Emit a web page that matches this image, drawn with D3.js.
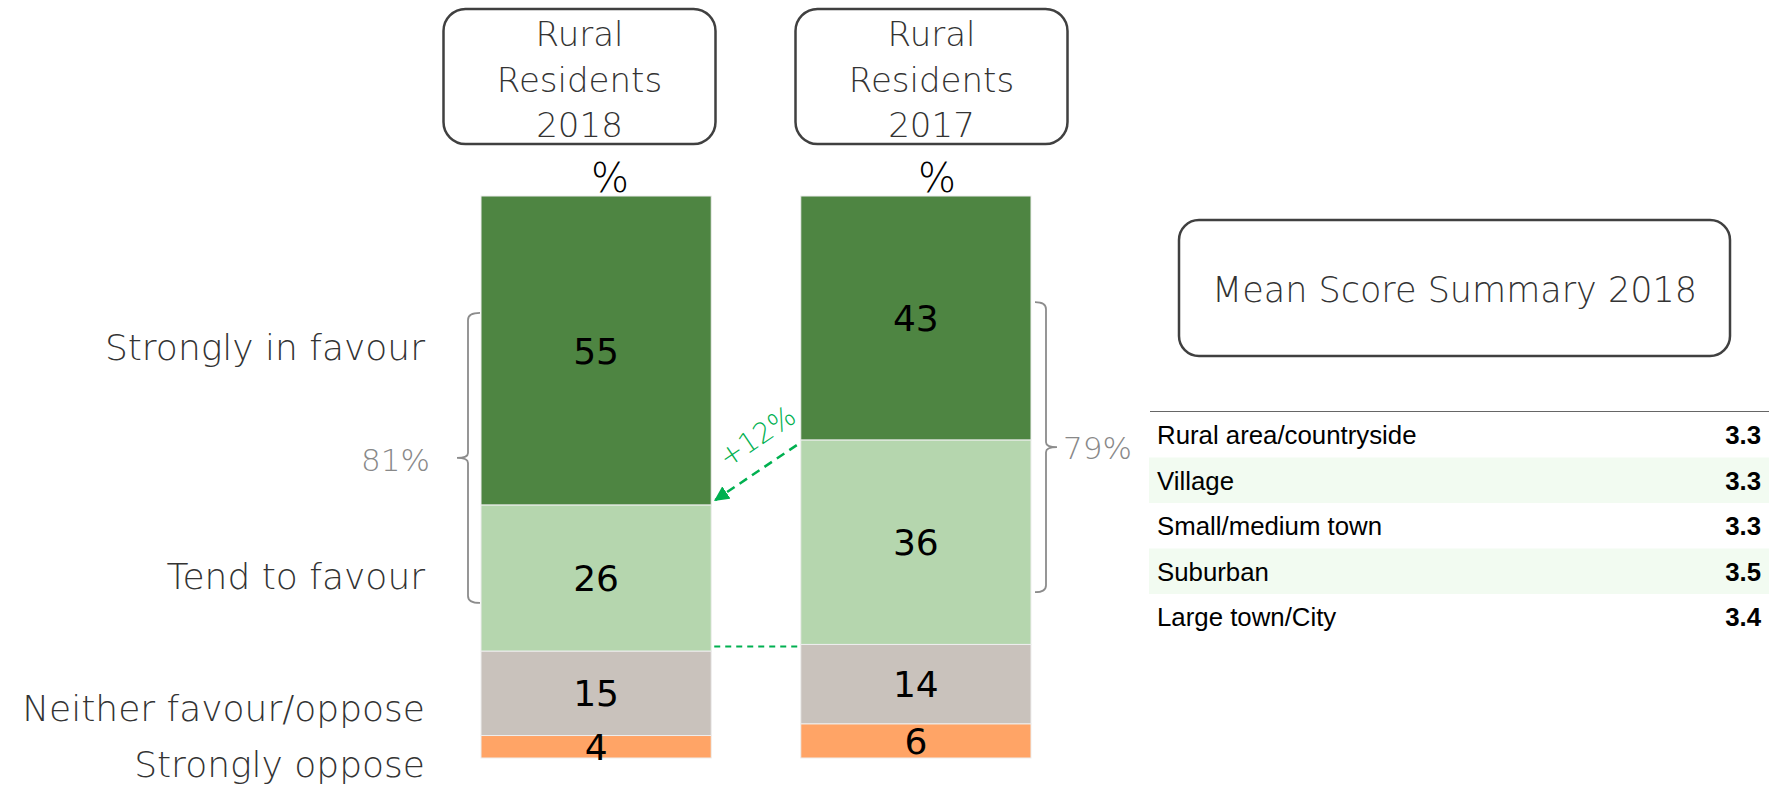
<!DOCTYPE html>
<html>
<head>
<meta charset="utf-8">
<script src="https://cdn.jsdelivr.net/npm/d3@7"></script>
<style>
  body { margin: 0; background: #fff; }
  svg { display: block; }
</style>
</head>
<body>
<div id="wrapper"></div>
<script>
// data
var groups = ["Rural Residents 2018", "Rural Residents 2017"];
var groupYears = ["2018", "2017"];
var categories = ["Strongly in favour", "Tend to favour", "Neither favour/oppose", "Strongly oppose"];
var values2018 = [55, 26, 15, 4];
var values2017 = [43, 36, 14, 6];
var netFavour = ["81%", "79%"];
var changeLabel = "+12%";

var summaryTitle = "Mean Score Summary 2018";
var areaTypes = ["Rural area/countryside", "Village", "Small/medium town", "Suburban", "Large town/City"];
var meanScores = [3.3, 3.3, 3.3, 3.5, 3.4];

var dimension = {
    width: 1776,
    height: 785,
    barTop: 196,
    barBottom: 758,
    barLeft: 481,
    barRight: 1031
}

var colors = ["#4E8542", "#B5D6AE", "#C9C2BC", "#FFA466"];
var thinFont = "'DejaVu Sans', sans-serif";
var textGrey = "#333333";

const svg = d3.select("#wrapper")
    .append("svg")
    .attr("width", dimension.width)
    .attr("height", dimension.height)

var table = groupYears.map(function(yr, i){
    var row = {year: yr};
    var vals = i == 0 ? values2018 : values2017;
    categories.forEach(function(c, j){ row[c] = vals[j]; });
    return row;
});

var stack = d3.stack().keys(categories).offset(d3.stackOffsetExpand);
var series = stack(table);

const xScaler = d3.scaleBand()
    .domain(groupYears)
    .range([dimension.barLeft, dimension.barRight])
    .paddingInner(0.28)
    .paddingOuter(0);

const yScaler = d3.scaleLinear()
    .domain([0, 1])
    .range([dimension.barTop, dimension.barBottom]);

var colorScale = d3.scaleOrdinal().domain(categories).range(colors);

// header boxes
var headerCenters = [579.5, 931.5];
var headerG = svg.append("g");
groups.forEach(function(g, i){
    var cx = headerCenters[i];
    headerG.append("rect")
        .attr("x", cx - 136).attr("y", 9)
        .attr("width", 272).attr("height", 135)
        .attr("rx", 22)
        .attr("fill", "none")
        .attr("stroke", "#404040")
        .attr("stroke-width", 2.5);
    var words = ["Rural", "Residents", groupYears[i]];
    words.forEach(function(w, k){
        headerG.append("text")
            .attr("x", cx).attr("y", 46 + k*45.5)
            .attr("text-anchor", "middle")
            .style("font-family", thinFont)
            .style("font-weight", 200)
            .style("font-size", "34px")
            .attr("fill", textGrey)
            .text(w);
    });
});

// % marks over bars
var pctX = [610, 937];
groupYears.forEach(function(yr, i){
    svg.append("text")
        .attr("x", pctX[i]).attr("y", 192)
        .attr("text-anchor", "middle")
        .style("font-family", thinFont)
        .style("font-weight", 200)
        .style("font-size", "40px")
        .attr("fill", "#000")
        .text("%");
});

// stacked bars
var barsG = svg.append("g");
barsG.selectAll("g")
    .data(series)
    .enter()
    .append("g")
    .attr("fill", d => colorScale(d.key))
    .selectAll("rect")
    .data(d => d)
    .enter()
    .append("rect")
    .attr("x", d => xScaler(d.data.year))
    .attr("y", d => yScaler(d[0]))
    .attr("width", xScaler.bandwidth())
    .attr("height", d => yScaler(d[1]) - yScaler(d[0]))
    .attr("stroke", "#eeeeee")
    .attr("stroke-width", 1);

// values inside bars
series.forEach(function(s){
    s.forEach(function(d){
        barsG.append("text")
            .attr("x", xScaler(d.data.year) + xScaler.bandwidth()/2)
            .attr("y", (yScaler(d[0]) + yScaler(d[1]))/2)
            .attr("dy", "0.36em")
            .attr("text-anchor", "middle")
            .style("font-family", thinFont)
            .style("font-size", "36px")
            .attr("fill", "#000")
            .text(d.data[s.key]);
    });
});

// category labels on the left, next to the 2018 bar
var labelNudge = [-4, -2, 15, 17];
var labelsG = svg.append("g");
series.forEach(function(s, i){
    var d = s[0];
    labelsG.append("text")
        .attr("x", 425)
        .attr("y", (yScaler(d[0]) + yScaler(d[1]))/2 + labelNudge[i])
        .attr("dy", "0.36em")
        .attr("text-anchor", "end")
        .style("font-family", thinFont)
        .style("font-weight", 200)
        .style("font-size", "36px")
        .attr("fill", textGrey)
        .text(categories[i]);
});

// braces showing total in favour
function brace(x, y1, y2, dir, arm, point){
    var mid = (y1 + y2)/2;
    return "M" + (x + dir*arm) + "," + y1 +
        " Q" + x + "," + y1 + " " + x + "," + (y1 + 7) +
        " L" + x + "," + (mid - 5) +
        " Q" + x + "," + mid + " " + (x - dir*point) + "," + mid +
        " Q" + x + "," + mid + " " + x + "," + (mid + 5) +
        " L" + x + "," + (y2 - 7) +
        " Q" + x + "," + y2 + " " + (x + dir*arm) + "," + y2;
}
var braceSpan = [[0.208, 0.724], [0.189, 0.705]];
var braceG = svg.append("g");
braceG.append("path")
    .attr("d", brace(468, yScaler(braceSpan[0][0]), yScaler(braceSpan[0][1]), 1, 12, 11))
    .attr("fill", "none").attr("stroke", "#8c8c8c").attr("stroke-width", 1.8);
braceG.append("path")
    .attr("d", brace(1046, yScaler(braceSpan[1][0]), yScaler(braceSpan[1][1]), -1, 11, 11))
    .attr("fill", "none").attr("stroke", "#8c8c8c").attr("stroke-width", 1.8);
braceG.append("text")
    .attr("x", 430).attr("y", (yScaler(braceSpan[0][0]) + yScaler(braceSpan[0][1]))/2 + 13)
    .attr("text-anchor", "end")
    .style("font-family", thinFont).style("font-weight", 200).style("font-size", "31px")
    .attr("fill", "#888888")
    .text(netFavour[0]);
braceG.append("text")
    .attr("x", 1063).attr("y", (yScaler(braceSpan[1][0]) + yScaler(braceSpan[1][1]))/2 + 12)
    .attr("text-anchor", "start")
    .style("font-family", thinFont).style("font-weight", 200).style("font-size", "31px")
    .attr("fill", "#888888")
    .text(netFavour[1]);

// change arrow between the bars
var green = "#00B050";
svg.append("defs").append("marker")
    .attr("id", "head")
    .attr("viewBox", "0 0 10 10")
    .attr("refX", 9).attr("refY", 5)
    .attr("markerWidth", 6).attr("markerHeight", 6)
    .attr("orient", "auto")
    .append("path")
    .attr("d", "M0,0 L10,5 L0,10 Z")
    .attr("fill", green);

var gap0 = xScaler("2018") + xScaler.bandwidth();
var gap1 = xScaler("2017");
var fromY = yScaler(series[0][1][1]) + 5;
var toY = yScaler(series[0][0][1]) - 5;
svg.append("line")
    .attr("x1", gap1 - 4).attr("y1", fromY)
    .attr("x2", gap0 + 4).attr("y2", toY)
    .attr("stroke", green).attr("stroke-width", 2.5)
    .attr("stroke-dasharray", "9,6")
    .attr("marker-end", "url(#head)");

var ang = Math.atan2(toY - fromY, (gap0 + 4) - (gap1 - 4)) * 180 / Math.PI + 180;
svg.append("text")
    .attr("transform", "translate(" + ((gap0 + gap1)/2 + 1) + "," + (fromY - 9) + ") rotate(" + ang + ")")
    .attr("text-anchor", "middle")
    .attr("dy", "0.36em")
    .style("font-family", thinFont).style("font-weight", 200).style("font-size", "28px")
    .attr("fill", green)
    .text(changeLabel);

svg.append("line")
    .attr("x1", gap0 + 3).attr("x2", gap1 - 3)
    .attr("y1", yScaler(series[1][1][1]) + 2).attr("y2", yScaler(series[1][1][1]) + 2)
    .attr("stroke", green).attr("stroke-width", 2)
    .attr("stroke-dasharray", "6,5");

// mean score summary
var sumG = svg.append("g");
sumG.append("rect")
    .attr("x", 1179).attr("y", 220)
    .attr("width", 551).attr("height", 136)
    .attr("rx", 20)
    .attr("fill", "none").attr("stroke", "#404040").attr("stroke-width", 2.5);
sumG.append("text")
    .attr("x", 1454.5).attr("y", 302)
    .attr("text-anchor", "middle")
    .style("font-family", thinFont).style("font-weight", 200).style("font-size", "35px")
    .attr("fill", textGrey)
    .text(summaryTitle);

const rowScale = d3.scaleBand()
    .domain(areaTypes)
    .range([412, 412 + 45.5*areaTypes.length]);

sumG.append("line")
    .attr("x1", 1150).attr("x2", 1769)
    .attr("y1", 411.5).attr("y2", 411.5)
    .attr("stroke", "#666").attr("stroke-width", 1.2);

var rows = sumG.selectAll("g.row")
    .data(areaTypes)
    .enter()
    .append("g")
    .attr("class", "row");
rows.append("rect")
    .attr("x", 1149).attr("width", 620)
    .attr("y", d => rowScale(d)).attr("height", rowScale.bandwidth())
    .attr("fill", (d, i) => i % 2 == 1 ? "#F2FBF1" : "#fff");
rows.append("text")
    .attr("x", 1157)
    .attr("y", d => rowScale(d) + rowScale.bandwidth()/2)
    .attr("dy", "0.36em")
    .style("font-family", "'Liberation Sans', Arial, sans-serif")
    .style("font-size", "25.8px")
    .attr("fill", "#000")
    .text(d => d);
rows.append("text")
    .attr("x", 1761)
    .attr("y", d => rowScale(d) + rowScale.bandwidth()/2)
    .attr("dy", "0.36em")
    .attr("text-anchor", "end")
    .style("font-family", "'Liberation Sans', Arial, sans-serif")
    .style("font-size", "25.8px")
    .style("font-weight", "bold")
    .attr("fill", "#000")
    .text((d, i) => meanScores[i].toFixed(1));
</script>
</body>
</html>
